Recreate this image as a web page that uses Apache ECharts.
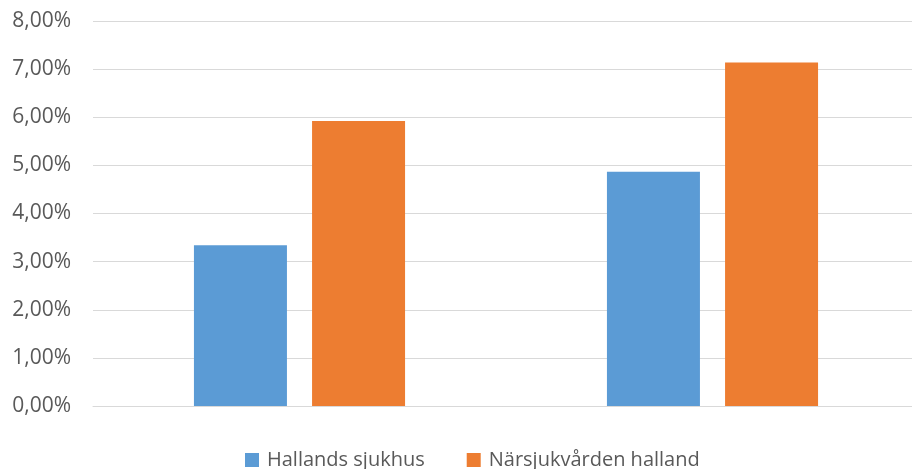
<!DOCTYPE html>
<html><head><meta charset="utf-8">
<script src="https://cdn.jsdelivr.net/npm/echarts@6/dist/echarts.min.js"></script>
<style>html,body{margin:0;padding:0;background:#fff}#c{width:912px;height:469px}</style>
</head><body><div id="c"></div>
<script>
const categories = ['', ''];
const seriesNames = ['Hallands sjukhus', 'Närsjukvården halland'];
const hallandsSjukhus = [3.34, 4.87];
const narsjukvarden = [5.92, 7.14];
const colors = ['#5B9BD5', '#ED7D31'];

const chart = echarts.init(document.getElementById('c'));
chart.setOption({
  animation: false,
  textStyle: { fontFamily: '"Open Sans", sans-serif' },
  grid: { left: 93, right: -7, top: 21, bottom: 63, outerBoundsMode: 'none' },
  legend: {
    top: 445, left: 240, itemWidth: 14, itemHeight: 14, itemGap: 42,
    icon: 'rect',
    textStyle: { fontSize: 20, color: '#595959', fontFamily: '"Open Sans", sans-serif', padding: [0, 0, 0, 3] },
    data: seriesNames
  },
  xAxis: {
    type: 'category', data: categories,
    axisLine: { show: true, lineStyle: { color: '#D9D9D9', width: 1 } },
    axisTick: { show: false }, axisLabel: { show: false }
  },
  yAxis: {
    type: 'value', min: 0, max: 8, interval: 1,
    axisLine: { show: false }, axisTick: { show: false },
    axisLabel: { fontSize: 21, color: '#595959', margin: 22,
      formatter: v => v.toFixed(2).replace('.', ',') + '%' },
    splitLine: { lineStyle: { color: '#D9D9D9', width: 1 } }
  },
  series: [
    { name: seriesNames[0], type: 'bar', data: hallandsSjukhus, barWidth: 93, barGap: '27%', itemStyle: { color: colors[0] } },
    { name: seriesNames[1], type: 'bar', data: narsjukvarden, barWidth: 93, itemStyle: { color: colors[1] } }
  ]
});
</script></body></html>
